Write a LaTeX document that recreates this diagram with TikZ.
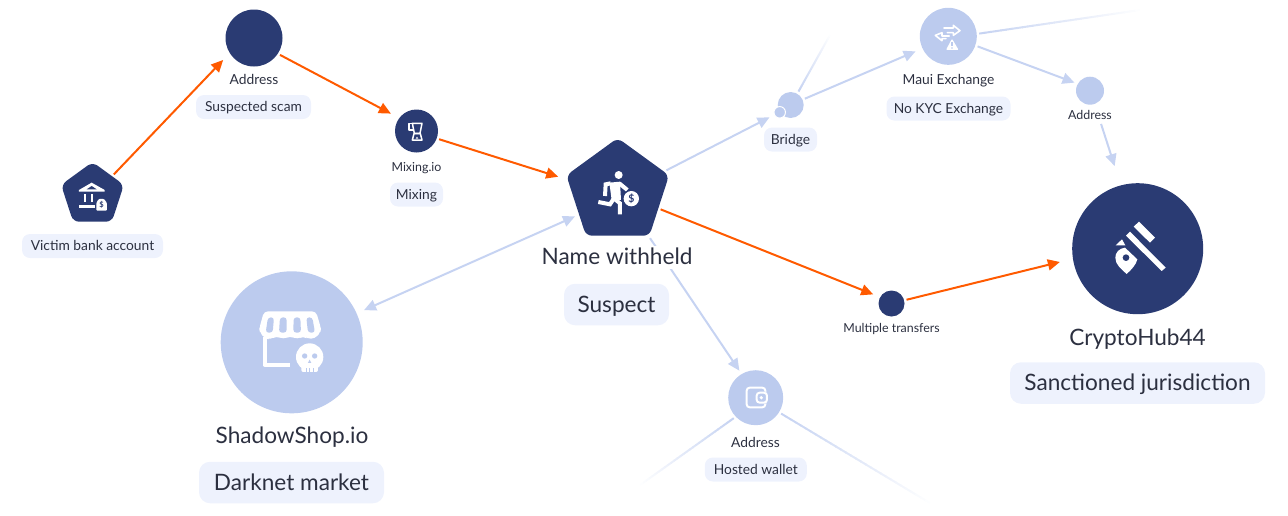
\documentclass[tikz,border=0pt]{standalone}
\usepackage{fontspec}
\setmainfont{Lato}
\usetikzlibrary{arrows.meta,shapes.geometric,calc}
\definecolor{navy}{HTML}{2A3B73}
\definecolor{pale}{HTML}{BCCBEE}
\definecolor{pline}{HTML}{C6D3F2}
\definecolor{orng}{HTML}{FF5A00}
\definecolor{chipbg}{HTML}{EEF2FD}
\definecolor{ink}{HTML}{2C3040}
\newcommand{\smallsize}{\fontsize{13.8}{16}\selectfont}
\newcommand{\tinysize}{\fontsize{12.4}{15}\selectfont}
\newcommand{\bigsize}{\fontsize{22.6}{26}\selectfont}
\newcommand{\fadeedge}[2]{%
  \foreach \i [evaluate=\i as \p using {100-\i*100/30}, evaluate=\i as \s using {\i/30}, evaluate=\i as \e using {min(1,(\i+1.15)/30)}] in {0,...,29}{
    \draw[line width=2pt,color=pline!\p!white] ($(#1)!\s!(#2)$) -- ($(#1)!\e!(#2)$);
  }}
\tikzset{
  dotn/.style={circle,fill=#1,draw=none,inner sep=0pt,outer sep=2.5pt},
  pent/.style={regular polygon,regular polygon sides=5,fill=navy,draw=none,inner sep=0pt,outer sep=2.5pt,rounded corners=6pt},
  lab/.style={text=ink,inner sep=0pt,align=center},
  chipS/.style={lab,fill=chipbg,rounded corners=8pt,minimum height=24pt,font=\smallsize,text height=10pt,text depth=1pt},
  chipL/.style={lab,fill=chipbg,rounded corners=11pt,minimum height=41.5pt,font=\bigsize,text height=16pt,text depth=1pt},
  txtS/.style={lab,font=\smallsize,text height=10pt,text depth=1pt},
  txtL/.style={lab,font=\bigsize,fill=white,inner xsep=2pt,inner ysep=3pt,text height=16pt,text depth=1pt},
  hot/.style={line width=2pt,color=orng,-{Triangle[length=12pt,width=11pt]}},
  cool/.style={line width=2pt,color=pline,-{Triangle[length=12pt,width=11pt]}},
  coolboth/.style={line width=2pt,color=pline,{Triangle[length=12pt,width=11pt]}-{Triangle[length=12pt,width=11pt]}},
  ico/.style={line width=#1,color=white,line cap=round,line join=round},
}
\begin{document}
\begin{tikzpicture}[x=1pt,y=-1pt]
\useasboundingbox (0,0) rectangle (1288,515);
% nodes
\node[pent,minimum size=66pt] (victim) at (92.5,195) {};
\node[dotn=navy,minimum size=57pt] (addr) at (254,38) {};
\node[dotn=navy,minimum size=43pt] (mix) at (416.5,131) {};
\node[pent,minimum size=108pt] (main) at (617.7,192) {};
\node[dotn=pale,minimum size=26pt] (bridge) at (790.7,105) {};
\node[dotn=pale,minimum size=57pt] (maui) at (948.3,36.3) {};
\node[dotn=pale,minimum size=28pt] (addrb) at (1090,90.7) {};
\node[dotn=navy,minimum size=131pt] (hub) at (1137.7,248.7) {};
\node[dotn=navy,minimum size=26pt] (multi) at (891.5,303.5) {};
\node[dotn=pale,minimum size=55pt] (wallet) at (755.7,397.7) {};
\node[dotn=pale,minimum size=142pt] (shadow) at (291.7,342.3) {};
\coordinate (fa) at (830,35);
\coordinate (fb) at (1140,10);
\coordinate (fc) at (640,485);
\coordinate (fd) at (930,503);
% edges
\fadeedge{bridge.60.7}{fa}
\fadeedge{maui.5.9}{fb}
\fadeedge{wallet.223.2}{fc}
\fadeedge{wallet.-32.4}{fd}
\draw[cool,shorten >=1.6pt] (main.-55.5) -- (wallet.121.3);
\draw[cool,shorten >=9pt] (main.24.6) -- (bridge.212.1);
\draw[cool,shorten >=5pt] (bridge.24.3) -- (maui.205.5);
\draw[cool,shorten >=1pt] (maui.-19.2) -- (addrb.152.8);
\draw[cool,shorten <=18.5pt,shorten >=17.8pt] (addrb.-71.6) -- (hub.105.3);
\draw[coolboth,shorten <=2pt,shorten >=5.7pt] (main.210.4) -- (shadow.24.1);
\draw[hot,shorten >=7pt] (victim.44) -- (addr.213.3);
\draw[hot,shorten >=7pt] (addr.-33.2) -- (mix.144.8);
\draw[hot,shorten >=7pt] (mix.-20.2) -- (main.166.5);
\draw[hot,shorten >=5pt] (main.-22.1) -- (multi.152.8);
\draw[hot,shorten >=11pt] (multi.14.5) -- (hub.189.7);
% small bridge dot
\node[circle,fill=pale,draw=white,line width=1pt,inner sep=0pt,minimum size=11.5pt] (bridgedot) at (779.7,112.3) {};
% labels
\node[chipS,minimum width=141pt] (lvictim) at (92.5,246) {Victim bank account};
\node[txtS] (laddr) at (254,80) {Address};
\node[chipS,minimum width=115pt] (lscam) at (253.5,107) {Suspected scam};
\node[txtS,font=\tinysize] (lmixio) at (416.5,167) {Mixing.io};
\node[chipS,minimum width=53pt] (lmix) at (416.5,194.5) {Mixing};
\node[chipS,minimum width=53pt] (lbridge) at (790.5,139.5) {Bridge};
\node[txtS] (lmaui) at (948.5,79.5) {Maui Exchange};
\node[chipS,minimum width=124pt] (lkyc) at (948.5,108.5) {No KYC Exchange};
\node[txtS,font=\tinysize] (laddrb) at (1090,115) {Address};
\node[txtS,font=\tinysize] (lmulti) at (891.5,328) {Multiple transfers};
\node[txtS] (laddrc) at (755.5,443) {Address};
\node[chipS,minimum width=102pt] (lhost) at (755.8,469.5) {Hosted wallet};
\node[txtL] (lname) at (617,257) {Name withheld};
\node[chipL,minimum width=105pt] (lsus) at (616.5,304.5) {Suspect};
\node[txtL] (lshadow) at (292,435.5) {ShadowShop.io};
\node[chipL,minimum width=185pt] (ldark) at (291.5,482.5) {Darknet market};
\node[txtL] (lhub) at (1137.5,337.5) {CryptoHub44};
\node[chipL,minimum width=255pt] (lsanc) at (1137.5,383) {Sanctioned jurisdiction};
% bank icon
\begin{scope}[xshift=0pt,yshift=0pt,x=.3333pt,y=-.3333pt]
  \fill[white] (275,548) -- (314,570) -- (314,575) -- (237,575) -- (237,570) -- cycle;
  \fill[navy] (275,558) -- (290,568) -- (260,568) -- cycle;
  \fill[white] (251,583) rectangle (257,607);
  \fill[white] (272,583) rectangle (280,607);
  \fill[white] (238,615) rectangle (285,623);
  \fill[white,rounded corners=1pt] (296,597) -- (312,597) -- (321,609) -- (321,632) -- (289,632) -- (289,609) -- cycle;
  \node[text=navy,font=\bfseries\fontsize{7.5}{8}\selectfont,inner sep=0pt] (bankd) at (305,616) {\$};
\end{scope}
% blender icon
\begin{scope}[xshift=380pt,yshift=-100pt,x=.3333pt,y=-.3333pt]
  \draw[ico=1.5pt] (97,70) -- (126,70) -- (120,100) -- (103,100) -- cycle;
  \draw[ico=1.5pt] (97,71) -- (87,71) -- (87,90) -- (100,90);
  \draw[ico=1.5pt] (102,101) -- (121,101) -- (126,120) -- (97,120) -- cycle;
  \fill[white] (107,116) -- (111,110) -- (115,116) -- cycle;
\end{scope}
% runner icon
\begin{scope}[xshift=540pt,yshift=-120pt,x=.3333pt,y=-.3333pt]
  \fill[white] (236,165) circle (12);
  \fill[white] (208,188) -- (240,185) -- (243,240) -- (215,240) -- cycle;
  \draw[ico=4pt,line cap=butt,line join=miter] (195,228) -- (197,193) -- (212,190);
  \draw[ico=4pt,line cap=butt,line join=miter] (238,190) -- (262,210);
  \draw[ico=4pt,line cap=butt,line join=miter] (222,235) -- (210,253) -- (175,246);
  \draw[ico=4pt,line cap=butt,line join=miter] (225,238) -- (240,250) -- (240,283);
  \fill[navy] (274,236) circle (27);
  \fill[white] (274,236) circle (23);
  \node[text=navy,font=\bfseries\fontsize{10.5}{11}\selectfont,inner sep=0pt] (rund) at (274,236) {\$};
\end{scope}
% exchange icon
\begin{scope}[xshift=740pt,yshift=0pt,x=.3333pt,y=-.3333pt]
  \draw[ico=1.6pt] (612,84) -- (640,84) -- (640,76) -- (660,92) -- (640,106) -- (640,98) -- (622,98);
  \draw[ico=1.6pt] (628,108) -- (606,108) -- (606,98) -- (586,106) -- (606,122) -- (606,116) -- (618,116);
  \fill[pale] (636,108) -- (664,156) -- (608,156) -- cycle;
  \fill[white,rounded corners=1pt] (636,116) -- (656,150) -- (618,150) -- cycle;
  \fill[pale] (634,126) rectangle (638.5,139);
  \fill[pale] (636.2,144) circle (2.6);
\end{scope}
% gavel and pin icon
\begin{scope}[xshift=1050pt,yshift=-170pt,x=.3333pt,y=-.3333pt]
  \fill[white] (267,155) -- (315,203) -- (300,218) -- (251,170) -- cycle;
  \fill[white] (240,185) -- (347,293) -- (335,303) -- (228,197) -- cycle;
  \fill[white] (216,208) -- (226,226) -- (197,226) -- cycle;
  \fill[white] (230,312) .. controls (215,298) and (196,285) .. (196,263) .. controls (196,248) and (207,235) .. (225,233) -- (262,268) .. controls (258,285) and (245,298) .. (230,312) -- cycle;
  \fill[navy] (228,263) circle (10);
\end{scope}
% shop icon
\begin{scope}[xshift=200pt,yshift=-260pt,x=.3333pt,y=-.3333pt]
  \fill[white,rounded corners=4pt] (192,154) -- (348,154) -- (363,205) -- (363,215) -- (345,236) -- (322,236) -- (310,228) -- (292,238) -- (270,228) -- (250,238) -- (230,228) -- (212,238) -- (195,236) -- (178,215) -- (178,205) -- cycle;
  \fill[pale,rounded corners=3pt] (204,172) -- (222,172) -- (218,218) -- (197,218) -- cycle;
  \fill[pale,rounded corners=3pt] (240,172) -- (260,172) -- (260,218) -- (237,218) -- cycle;
  \fill[pale,rounded corners=3pt] (281,172) -- (301,172) -- (303,218) -- (280,218) -- cycle;
  \fill[pale,rounded corners=3pt] (319,172) -- (337,172) -- (345,218) -- (324,218) -- cycle;
  \draw[line width=4.3pt,color=white,line join=round] (194,232) -- (194,314) -- (270,314);
  \fill[pale] (329,292) circle (47);
  \fill[white] (329,291) circle (41);
  \fill[white,rounded corners=2pt] (304,305) rectangle (354,336);
  \fill[pale] (317,323) rectangle (320,337);
  \fill[pale] (328,323) rectangle (331,337);
  \fill[pale] (339,323) rectangle (342,337);
  \fill[pale] (314,288) circle (8);
  \fill[pale] (344,288) circle (8);
  \fill[pale] (329,299) -- (334,309) -- (324,309) -- cycle;
\end{scope}
% wallet icon
\begin{scope}[xshift=630pt,yshift=-350pt,x=.3333pt,y=-.3333pt]
  \draw[line width=2pt,color=white,rounded corners=3pt] (350,113) -- (406,113) -- (406,172) -- (350,172) -- cycle;
  \fill[pale,rounded corners=3pt] (376,125) rectangle (414,161);
  \draw[line width=2pt,color=white,rounded corners=3pt] (380,128) rectangle (411,158);
  \fill[white] (394,143) circle (5.5);
\end{scope}
\end{tikzpicture}
\end{document}
